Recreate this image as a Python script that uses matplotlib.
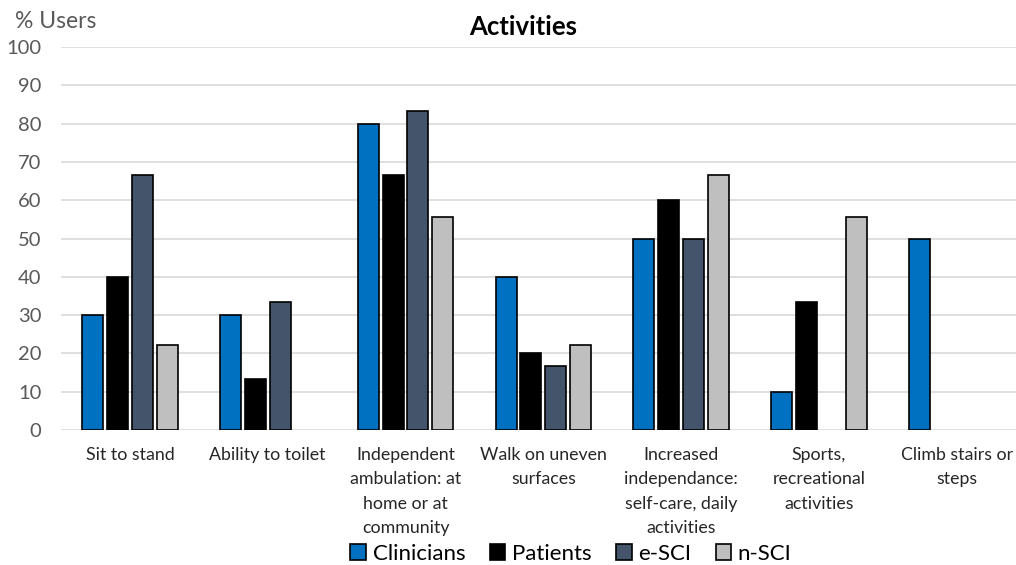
import numpy as np
import matplotlib.pyplot as plt
from matplotlib.patches import Patch

plt.rcParams['font.family'] = ['Lato', 'DejaVu Sans']

categories = ["Sit to stand", "Ability to toilet",
              "Independent\nambulation: at\nhome or at\ncommunity",
              "Walk on uneven\nsurfaces",
              "Increased\nindependance:\nself-care, daily\nactivities",
              "Sports,\nrecreational\nactivities",
              "Climb stairs or\nsteps"]
clinicians = [30, 30, 80, 40, 50, 10, 50]
patients = [40, 13.3, 66.7, 20, 60, 33.3, 0]
e_sci = [66.7, 33.3, 83.3, 16.7, 50, 0, 0]
n_sci = [22.2, 0, 55.6, 22.2, 66.7, 55.6, 0]
series_names = ["Clinicians", "Patients", "e-SCI", "n-SCI"]
colors = ["#0070C0", "#000000", "#44546A", "#BFBFBF"]

fig = plt.figure(figsize=(10.16, 5.65), dpi=100)
ax = fig.add_axes([61 / 1016, 1 - 430 / 565, 1 - 61 / 1016, 383 / 565])

x = np.arange(len(categories))
step = 0.18
width = 0.152
for i, (vals, c) in enumerate(zip([clinicians, patients, e_sci, n_sci], colors)):
    v = np.array(vals, dtype=float)
    keep = v > 0
    ax.bar(x[keep] + (i - 1.5) * step, v[keep], width, color=c,
           edgecolor="black", linewidth=1.2, zorder=3)

ax.set_ylim(0, 100)
ax.set_xlim(-0.5, 6.43)
ax.set_yticks(range(0, 101, 10))
ax.yaxis.grid(True, color="#D9D9D9", linewidth=1.2, zorder=0)
for s in ax.spines.values():
    s.set_visible(False)
ax.tick_params(axis="both", length=0, colors="#595959", labelsize=14.5)
ax.tick_params(axis="y", pad=14)
ax.set_xticks(x)
ax.set_xticklabels(categories, fontsize=12.8, color="#262626", linespacing=1.65)
ax.tick_params(axis="x", pad=12)

fig.text(0.515, 0.952, "Activities", ha="center", va="center",
         fontsize=18.5, fontweight="bold", color="black")
fig.text(0.015, 0.962, "% Users", ha="left", va="center",
         fontsize=16.5, color="#595959")

handles = [Patch(facecolor=c, edgecolor="black", linewidth=1.2) for c in colors]
fig.legend(handles, series_names, loc="center", bbox_to_anchor=(0.562, 0.02),
           ncol=4, frameon=False, fontsize=16, handlelength=0.7, handleheight=0.7,
           handletextpad=0.3, columnspacing=1.1, borderpad=0)

fig.savefig("out.png", dpi=100)
